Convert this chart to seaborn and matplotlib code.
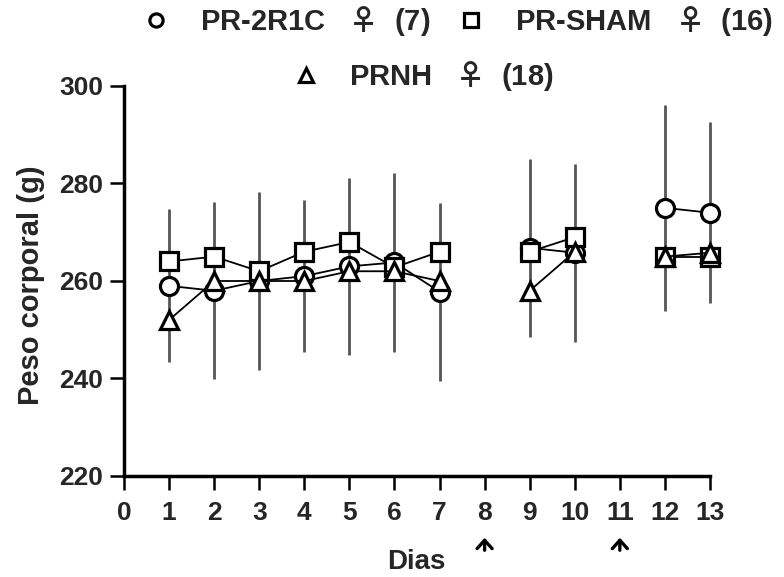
import numpy as np
import pandas as pd
import matplotlib
matplotlib.use("Agg")
import matplotlib.pyplot as plt
from matplotlib.lines import Line2D
import seaborn as sns

days = [1, 2, 3, 4, 5, 6, 7, 9, 10, 12, 13]
segments = [0, 0, 0, 0, 0, 0, 0, 1, 1, 2, 2]
pr2r1c = [259, 258, 260, 261, 263, 263.8, 257.8, 266.8, 265.8, 275, 274]
pr2r1c_err = [15.7, 18.2, 18.3, 15.6, 18.2, 18.4, 18.3, 18.3, 18.3, 21.1, 18.6]
prsham = [264, 265, 262, 266, 268, 262.8, 266, 266, 269, 265, 265]
prnh = [252, 260, 260, 260, 262, 262, 260, 258, 266, 265, 265.8]
groups = ["PR-2R1C", "PR-SHAM", "PRNH"]
legend_labels = [r"PR-2R1C   $\mathrm{♀}$  (7)", r"PR-SHAM   $\mathrm{♀}$  (16)",
                 r"PRNH   $\mathrm{♀}$  (18)"]
xticks = list(range(0, 14))
yticks = [220, 240, 260, 280, 300]
arrow_days = [8, 11]

sns.set_theme(style="white")
plt.rcParams["font.family"] = ["Liberation Sans", "DejaVu Sans"]
plt.rcParams["font.weight"] = "bold"
plt.rcParams["mathtext.fontset"] = "custom"
plt.rcParams["mathtext.rm"] = "Noto Sans CJK JP:bold"
plt.rcParams["mathtext.bf"] = "Noto Sans CJK JP:bold"

rows = []
for g, vals in zip(groups, [pr2r1c, prsham, prnh]):
    for d, s, v in zip(days, segments, vals):
        rows.append({"group": g, "day": d, "seg": s, "value": v})
df = pd.DataFrame(rows)

fig = plt.figure(figsize=(7.84, 5.77), dpi=100)
ax = fig.add_axes([124 / 784, 1 - 476 / 577, (710 - 124) / 784, (476 - 86) / 577])

# error bars (PR-2R1C)
eb = ax.errorbar(days, pr2r1c, yerr=pr2r1c_err, fmt="none", ecolor="#555555",
                 elinewidth=2.0, capsize=0, zorder=1)
for c in eb.lines[2]:
    c.set_clip_on(False)

markers = {"PR-2R1C": "o", "PR-SHAM": "s", "PRNH": "^"}
palette = {g: "black" for g in groups}
sns.lineplot(data=df, x="day", y="value", hue="group", style="group",
             units="seg", estimator=None, markers=markers, dashes=False,
             palette=palette, ax=ax, legend=False, linewidth=1.3,
             markersize=13, markerfacecolor="white", markeredgecolor="black",
             markeredgewidth=2.3, zorder=3)
for line in ax.get_lines():
    line.set_markerfacecolor("white")
    line.set_markeredgecolor("black")
    line.set_clip_on(False)

ax.set_xlim(0, 13)
ax.set_ylim(220, 300)
ax.set_xticks(xticks)
ax.set_yticks(yticks)
ax.set_xticklabels([str(t) for t in xticks], fontsize=19, fontweight="bold")
ax.set_yticklabels([str(t) for t in yticks], fontsize=19, fontweight="bold")
for side in ["top", "right"]:
    ax.spines[side].set_visible(False)
for side in ["left", "bottom"]:
    ax.spines[side].set_linewidth(2.5)
    ax.spines[side].set_color("black")
ax.tick_params(axis="both", which="major", direction="out", length=10, width=1.8,
               color="black", bottom=True, left=True)
ax.tick_params(axis="x", pad=8)
ax.tick_params(axis="y", pad=5)
ax.set_xlabel("Dias", fontsize=20, fontweight="bold")
ax.set_ylabel("Peso corporal (g)", fontsize=21, fontweight="bold")
ax.xaxis.label.set_va("center")
ax.yaxis.label.set_va("center")
ax.xaxis.set_label_coords((416 - 124) / 586, (476 - 562) / 390)
ax.yaxis.set_label_coords((31 - 124) / 586, (476 - 285) / 390)

for d in arrow_days:
    ax.annotate("", xy=(d, (476 - 535) / 390), xycoords=("data", "axes fraction"),
                xytext=(d, (476 - 553) / 390), textcoords=("data", "axes fraction"),
                arrowprops=dict(arrowstyle="->,head_width=0.45,head_length=0.5",
                                color="black", lw=2.4), annotation_clip=False)

def handle(m, ms=9.5):
    return Line2D([], [], linestyle="none", marker=m, markersize=ms,
                  markerfacecolor="white", markeredgecolor="black",
                  markeredgewidth=2.3)

leg1 = fig.legend([handle("o"), handle("s")], legend_labels[:2], loc="center",
                  bbox_to_anchor=(0.581, 0.963), ncol=2, frameon=False,
                  prop={"size": 21, "weight": "bold"}, handletextpad=0.9,
                  columnspacing=0.8, handlelength=1.2)
leg2 = fig.legend([handle("^", 10)], legend_labels[2:], loc="center",
                  bbox_to_anchor=(0.537, 0.868), ncol=1, frameon=False,
                  prop={"size": 21, "weight": "bold"}, handletextpad=0.9,
                  handlelength=1.2)

fig.savefig("out.png", dpi=100, facecolor="white")
